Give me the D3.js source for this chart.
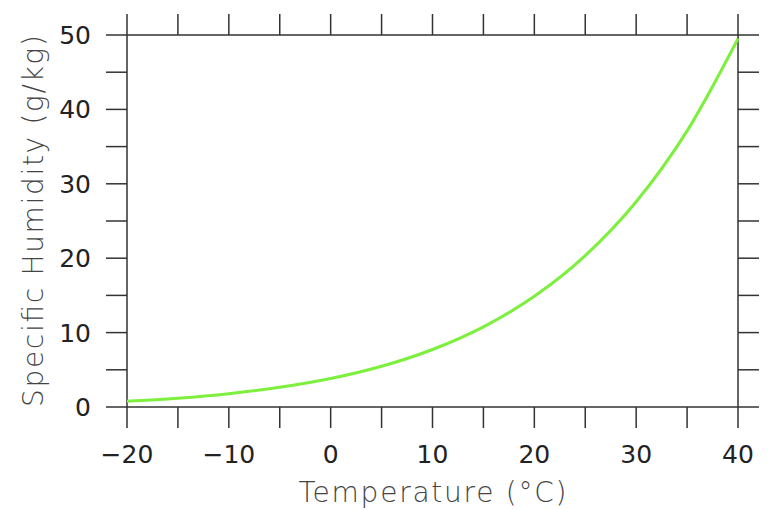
<!DOCTYPE html>
<html><head><meta charset="utf-8">
<script src="https://cdn.jsdelivr.net/npm/d3@7"></script>
<style>body{margin:0;background:#fff}svg{display:block}</style>
</head><body>
<svg id="chart" width="772" height="510"></svg>
<script>
const temperature = [-20,-15,-10,-5,0,5,10,15,20,25,30,35,40];
const humidity = [0.78,1.19,1.79,2.64,3.82,5.47,7.73,10.78,14.88,20.35,27.58,37.11,49.5];
const xTickLabels = [-20,-10,0,10,20,30,40];
const yTickLabels = [0,10,20,30,40,50];
const xTitle = "Temperature (\u00B0C)";
const yTitle = "Specific Humidity (g/kg)";

const svg = d3.select("#chart");
const L=127,R=738,T=35,B=407,tick=21;
const x = d3.scaleLinear().domain([-20,40]).range([L,R]);
const y = d3.scaleLinear().domain([0,50]).range([B,T]);
const font = "'DejaVu Sans', sans-serif";
const axisColor = "#333";

const xMinor = d3.range(-20,40.1,5), yMinor = d3.range(0,50.1,5);
const g = svg.append("g");
g.append("rect").attr("x",L).attr("y",T).attr("width",R-L).attr("height",B-T)
 .attr("fill","none").attr("stroke",axisColor).attr("stroke-width",1.5);
g.selectAll(".tb").data(xMinor).join("line").attr("x1",d=>x(d)).attr("x2",d=>x(d))
 .attr("y1",B).attr("y2",B+tick).attr("stroke",axisColor).attr("stroke-width",1.5);
g.selectAll(".tt").data(xMinor).join("line").attr("x1",d=>x(d)).attr("x2",d=>x(d))
 .attr("y1",T).attr("y2",T-tick).attr("stroke",axisColor).attr("stroke-width",1.5);
g.selectAll(".tl").data(yMinor).join("line").attr("y1",d=>y(d)).attr("y2",d=>y(d))
 .attr("x1",L).attr("x2",L-tick).attr("stroke",axisColor).attr("stroke-width",1.5);
g.selectAll(".tr").data(yMinor).join("line").attr("y1",d=>y(d)).attr("y2",d=>y(d))
 .attr("x1",R).attr("x2",R+tick).attr("stroke",axisColor).attr("stroke-width",1.5);

svg.append("g").selectAll("text").data(xTickLabels).join("text")
 .attr("x",d=>x(d)).attr("y",463).attr("text-anchor","middle")
 .attr("font-family",font).attr("font-size",25).attr("fill","#222")
 .text(d=>d<0?"\u2212"+Math.abs(d):d);
svg.append("g").selectAll("text").data(yTickLabels).join("text")
 .attr("x",91).attr("y",d=>y(d)+9).attr("text-anchor","end")
 .attr("font-family",font).attr("font-size",25).attr("fill","#222")
 .text(d=>d);

svg.append("text").attr("x",(L+R)/2).attr("y",502).attr("text-anchor","middle")
 .attr("font-family",font).attr("font-weight",200).attr("font-size",28).attr("fill","#444")
 .attr("textLength",268).attr("lengthAdjust","spacing").text(xTitle);
svg.append("text").attr("transform",`translate(43,${(T+B)/2}) rotate(-90)`)
 .attr("text-anchor","middle")
 .attr("font-family",font).attr("font-weight",200).attr("font-size",28).attr("fill","#444")
 .attr("textLength",372).attr("lengthAdjust","spacing").text(yTitle);

const line = d3.line().x((d,i)=>x(temperature[i])).y(d=>y(d)).curve(d3.curveMonotoneX);
svg.append("path").datum(humidity).attr("d",line).attr("fill","none")
 .attr("stroke","#7cf03c").attr("stroke-width",3);
</script>
</body></html>
